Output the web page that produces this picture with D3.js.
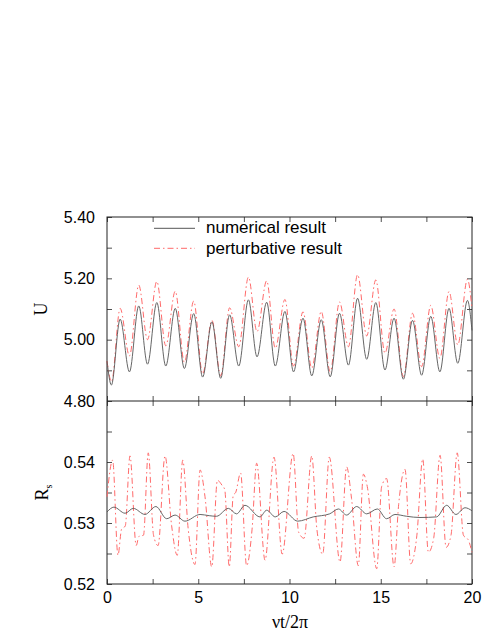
<!DOCTYPE html>
<html><head><meta charset="utf-8">
<script src="https://cdn.jsdelivr.net/npm/d3@7"></script>
<style>body{margin:0;background:#fff}svg{display:block}</style>
</head><body>
<svg id="c" width="491" height="635"></svg>
<script>
// ---- data ----
const xTicks = [0, 5, 10, 15, 20];
const uTicks = [4.8, 5.0, 5.2, 5.4];
const rTicks = [0.52, 0.53, 0.54];
const legendLabels = ["numerical result", "perturbative result"];

const uNumerical = [[0,4.93],[0.24,4.852],[0.72,5.067],[1.23,4.895],[1.74,5.110],[2.22,4.920],[2.73,5.121],[3.22,4.914],[3.74,5.102],[4.24,4.906],[4.75,5.085],[5.24,4.878],[5.75,5.058],[6.23,4.874],[6.72,5.081],[7.22,4.914],[7.75,5.130],[8.22,4.944],[8.75,5.122],[9.22,4.914],[9.75,5.092],[10.22,4.895],[10.74,5.070],[11.22,4.882],[11.74,5.065],[12.23,4.879],[12.74,5.086],[13.23,4.917],[13.73,5.135],[14.23,4.936],[14.73,5.121],[15.23,4.901],[15.73,5.070],[16.24,4.871],[16.74,5.063],[17.24,4.884],[17.74,5.076],[18.24,4.895],[18.74,5.102],[19.22,4.923],[19.75,5.128],[20,5.03]];
const uPerturbative = [[0,4.93],[0.25,4.863],[0.72,5.102],[1.23,4.947],[1.74,5.178],[2.22,5.000],[2.73,5.190],[3.22,4.980],[3.74,5.158],[4.24,4.926],[4.75,5.126],[5.24,4.888],[5.75,5.063],[6.23,4.882],[6.72,5.104],[7.22,4.977],[7.75,5.204],[8.22,5.026],[8.75,5.192],[9.22,4.972],[9.75,5.131],[10.22,4.914],[10.74,5.091],[11.22,4.907],[11.74,5.092],[12.23,4.895],[12.74,5.123],[13.23,4.977],[13.73,5.212],[14.23,5.012],[14.73,5.195],[15.23,4.956],[15.73,5.100],[16.24,4.879],[16.74,5.086],[17.24,4.912],[17.74,5.112],[18.24,4.939],[18.74,5.157],[19.22,4.983],[19.75,5.197],[20,5.10]];
const rNumerical = [[0,0.5318],[0.38,0.5326],[0.99,0.5316],[1.44,0.5324],[2.08,0.5314],[2.68,0.5327],[3.27,0.5307],[3.73,0.5313],[4.27,0.5303],[5.1,0.5314],[5.6,0.5312],[6.0,0.5311],[6.65,0.5324],[7.1,0.5315],[7.56,0.5329],[8.38,0.5310],[8.75,0.5321],[9.22,0.5310],[9.7,0.5319],[10.45,0.5303],[11.3,0.5310],[12.2,0.5315],[12.68,0.5323],[13.13,0.5313],[13.68,0.5327],[14.23,0.5315],[14.81,0.5323],[15.32,0.5307],[15.78,0.5314],[16.42,0.5311],[17.15,0.5309],[18.06,0.5310],[18.61,0.5329],[19.12,0.5314],[19.62,0.5325],[20,0.5320]];
const rPerturbative = [[0,0.5343],[0.31,0.5403],[0.6,0.5247],[0.8,0.5290],[1.0,0.5295],[1.26,0.5410],[1.6,0.5263],[1.75,0.5278],[2.0,0.5280],[2.26,0.5415],[2.55,0.5280],[2.8,0.5263],[3.18,0.5410],[3.54,0.5296],[3.85,0.5247],[4.15,0.5403],[4.45,0.5290],[4.82,0.5232],[5.1,0.5387],[5.37,0.5343],[5.74,0.5228],[6.05,0.5370],[6.3,0.5362],[6.45,0.5355],[6.7,0.5228],[6.92,0.5346],[7.05,0.5350],[7.32,0.5382],[7.65,0.5230],[7.95,0.5290],[8.2,0.5398],[8.66,0.5239],[9.15,0.5408],[9.6,0.5249],[10.2,0.5414],[10.5,0.5285],[10.8,0.5275],[11.22,0.5410],[11.5,0.5290],[11.82,0.5249],[12.18,0.5408],[12.77,0.5236],[13.13,0.5392],[13.4,0.5340],[13.77,0.5230],[14.05,0.5380],[14.26,0.5360],[14.78,0.5225],[15.05,0.5360],[15.32,0.5373],[15.73,0.5228],[15.98,0.5330],[16.33,0.5388],[16.64,0.5233],[16.98,0.5280],[17.3,0.5405],[17.61,0.5252],[17.9,0.5275],[18.25,0.5411],[18.58,0.5260],[18.85,0.5280],[19.19,0.5415],[19.53,0.5280],[19.8,0.5272],[20,0.5252]];

// ---- layout ----
const L = 107, R = 472, T = 217, M = 401, B = 584;
const svg = d3.select("#c");
const x = d3.scaleLinear().domain([0, 20]).range([L, R]);
const yU = d3.scaleLinear().domain([4.8, 5.4]).range([M, T]);
const yR = d3.scaleLinear().domain([0.52, 0.55]).range([B, M]);

const sansFont = "'Liberation Sans', Arial, Helvetica, sans-serif";
const serifFont = "'Liberation Serif', 'Times New Roman', serif";
const numCol = "#555", pertCol = "#ff6a6a", pertDash = "6,3,1.5,3";

const xMinor = d3.range(0, 20.01, 2.5);
const uMinor = d3.range(4.8, 5.401, 0.1);
const rMinor = d3.range(0.52, 0.5501, 0.005);

function styleAxis(g) {
  g.select(".domain").remove();
  g.selectAll(".tick line").attr("stroke", "#222").attr("stroke-width", 0.8);
  g.selectAll("text").attr("font-family", sansFont).attr("font-size", 16).attr("fill", "#000");
}
const fmtU = d => uTicks.some(t => Math.abs(t - d) < 1e-6) ? d3.format(".2f")(d) : "";
const fmtR = d => rTicks.some(t => Math.abs(t - d) < 1e-6) ? d3.format(".2f")(d) : "";
const none = () => "";

// top panel axes
svg.append("g").attr("transform", `translate(${L},0)`)
  .call(d3.axisLeft(yU).tickValues(uMinor).tickSize(-5).tickPadding(12).tickFormat(fmtU)).call(styleAxis);
svg.append("g").attr("transform", `translate(${R},0)`)
  .call(d3.axisRight(yU).tickValues(uMinor).tickSize(-5).tickFormat(none)).call(styleAxis);
svg.append("g").attr("transform", `translate(0,${T})`)
  .call(d3.axisTop(x).tickValues(xMinor).tickSize(-5).tickFormat(none)).call(styleAxis);
svg.append("g").attr("transform", `translate(0,${M})`)
  .call(d3.axisBottom(x).tickValues(xMinor).tickSize(-5).tickFormat(none)).call(styleAxis);
// bottom panel axes
svg.append("g").attr("transform", `translate(${L},0)`)
  .call(d3.axisLeft(yR).tickValues(rMinor.filter(v => v < 0.5499)).tickSize(-5).tickPadding(12).tickFormat(fmtR)).call(styleAxis);
svg.append("g").attr("transform", `translate(${R},0)`)
  .call(d3.axisRight(yR).tickValues(rMinor).tickSize(-5).tickFormat(none)).call(styleAxis);
svg.append("g").attr("transform", `translate(0,${M})`)
  .call(d3.axisTop(x).tickValues(xMinor).tickSize(-5).tickFormat(none)).call(styleAxis);
svg.append("g").attr("transform", `translate(0,${B})`)
  .call(d3.axisBottom(x).tickValues(xMinor).tickSize(-5).tickPadding(8)
    .tickFormat(d => xTicks.includes(d) ? String(d) : "")).call(styleAxis);

// frame
svg.append("rect").attr("x", L).attr("y", T).attr("width", R - L).attr("height", B - T)
  .attr("fill", "none").attr("stroke", "#222").attr("stroke-width", 1);
svg.append("line").attr("x1", L).attr("x2", R).attr("y1", M).attr("y2", M)
  .attr("stroke", "#222").attr("stroke-width", 1);

// curves
const lineU = d3.line().x(d => x(d[0])).y(d => yU(d[1])).curve(d3.curveMonotoneX);
const lineR = d3.line().x(d => x(d[0])).y(d => yR(d[1])).curve(d3.curveMonotoneX);
svg.append("path").datum(uPerturbative).attr("d", lineU).attr("fill", "none")
  .attr("stroke", pertCol).attr("stroke-width", 1).attr("stroke-dasharray", pertDash);
svg.append("path").datum(uNumerical).attr("d", lineU).attr("fill", "none")
  .attr("stroke", numCol).attr("stroke-width", 0.9);
svg.append("path").datum(rPerturbative).attr("d", lineR).attr("fill", "none")
  .attr("stroke", pertCol).attr("stroke-width", 1).attr("stroke-dasharray", pertDash);
svg.append("path").datum(rNumerical).attr("d", lineR).attr("fill", "none")
  .attr("stroke", numCol).attr("stroke-width", 0.9);

// legend
const leg = svg.append("g");
[[numCol, null, 228.3, 233], [pertCol, pertDash, 248.3, 254]].forEach((s, i) => {
  leg.append("line").attr("x1", 154).attr("x2", 195).attr("y1", s[2]).attr("y2", s[2])
    .attr("stroke", s[0]).attr("stroke-width", 1).attr("stroke-dasharray", s[1]);
  leg.append("text").attr("x", 206).attr("y", s[3]).text(legendLabels[i])
    .attr("font-family", sansFont).attr("font-size", 17).attr("fill", "#000");
});

// axis titles
svg.append("text").attr("transform", `translate(47,${(T + M) / 2}) rotate(-90)`)
  .attr("text-anchor", "middle").attr("font-family", serifFont).attr("font-size", 18).text("U");
const rt = svg.append("text").attr("transform", `translate(48,${(M + B) / 2}) rotate(-90)`)
  .attr("text-anchor", "middle").attr("font-family", serifFont).attr("font-size", 18);
rt.append("tspan").text("R");
rt.append("tspan").attr("font-size", 10).attr("dy", 4).text("s");
svg.append("text").attr("x", 290).attr("y", 628).attr("text-anchor", "middle")
  .attr("font-family", serifFont).attr("font-size", 18).text("νt/2π");
</script>
</body></html>
